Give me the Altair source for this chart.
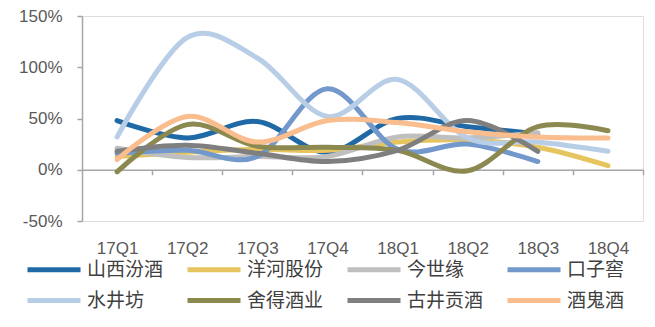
import altair as alt
import pandas as pd

quarters = ["17Q1", "17Q2", "17Q3", "17Q4", "18Q1", "18Q2", "18Q3", "18Q4"]
series_names = ["山西汾酒", "洋河股份", "今世缘", "口子窖", "水井坊", "舍得酒业", "古井贡酒", "酒鬼酒"]
colors = ["#1F69A6", "#E6C561", "#BFBFBF", "#7298CC", "#B8CDE6", "#8C8950", "#7F7F7F", "#F9BD8E"]

fenjiu = [48, 31, 47, 17, 50, 42, 35, None]
yanghe = [13, 17, 20, 19, 27, 29, 22, 4]
jinshiyuan = [21, 12, 13, 13, 32, 31, 36, None]
kouzijiao = [16, 19, 13, 79, 20, 25, 8, None]
shuijingfang = [32, 129, 109, 52, 88, 31, 27, 18]
shede = [-2, 44, 23, 22, 19, -1, 42, 38]
gujing = [18, 24, 16, 8, 19, 48, 18, None]
jiuguijiu = [10, 52, 27, 48, 46, 37, 32, 31]

all_values = [fenjiu, yanghe, jinshiyuan, kouzijiao, shuijingfang, shede, gujing, jiuguijiu]

rows = []
for name, vals in zip(series_names, all_values):
    for q, v in zip(quarters, vals):
        if v is not None:
            rows.append({"quarter": q, "series": name, "value": v})
df = pd.DataFrame(rows)

axis_color = "#A6A6A6"
label_color = "#595959"

x_enc = alt.X(
    "quarter:N",
    sort=quarters,
    scale=alt.Scale(type="point", padding=0.5),
    axis=alt.Axis(
        title=None,
        orient="bottom",
        offset=-51.25,
        tickOffset=35.06,
        labelOffset=-35.06,
        tickSize=5,
        labelPadding=66,
        labelAngle=0,
        domainColor=axis_color,
        tickColor=axis_color,
        domainWidth=1.5,
        tickWidth=1.5,
        labelFont="Liberation Sans",
        labelFontSize=17,
        labelColor=label_color,
        grid=False,
    ),
)

y_enc = alt.Y(
    "value:Q",
    scale=alt.Scale(domain=[-50, 150], nice=False, zero=False),
    axis=alt.Axis(
        title=None,
        values=[-50, 0, 50, 100, 150],
        labelExpr="datum.value + '%'",
        tickSize=5,
        labelPadding=15,
        domainColor=axis_color,
        tickColor=axis_color,
        domainWidth=1.5,
        tickWidth=1.5,
        labelFont="Liberation Sans",
        labelFontSize=17,
        labelColor=label_color,
        grid=False,
    ),
)

color_enc = alt.Color(
    "series:N",
    sort=series_names,
    scale=alt.Scale(domain=series_names, range=colors),
    legend=alt.Legend(
        title=None,
        orient="none",
        legendX=-57,
        legendY=241,
        direction="horizontal",
        columns=4,
        gridAlign="all",
        columnPadding=13,
        rowPadding=8,
        symbolType="M-1,0H4.3",
        symbolSize=400,
        symbolStrokeWidth=5,
        symbolFillColor="transparent",
        labelOffset=37,
        labelFont="Noto Sans CJK SC",
        labelFontSize=19,
        labelColor="#404040",
        labelLimit=200,
    ),
)

layers = []
for name in series_names:
    layers.append(
        alt.Chart(df)
        .transform_filter(alt.datum.series == name)
        .mark_line(interpolate="cardinal", strokeWidth=5, strokeCap="round")
        .encode(x=x_enc, y=y_enc, color=color_enc)
    )

chart = (
    alt.layer(*layers)
    .properties(
        width=561,
        height=205,
        autosize=alt.AutoSizeParams(type="none"),
        padding={"left": 82, "top": 16, "right": 12, "bottom": 106},
    )
    .configure_view(stroke=None)
    .configure(background="white")
)

chart.save("out.html", embed_options={"renderer": "svg", "actions": False})
